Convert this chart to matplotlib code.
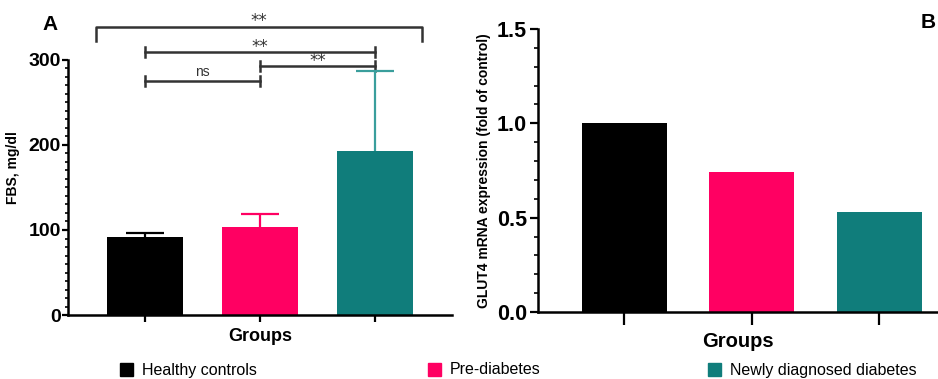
import matplotlib
matplotlib.use("Agg")
import matplotlib.pyplot as plt
from matplotlib.ticker import MultipleLocator, FormatStrFormatter

plt.rcParams['font.family'] = ['Liberation Sans', 'DejaVu Sans']

groups = ["Healthy controls", "Pre-diabetes", "Newly diagnosed diabetes"]
colors = ["#000000", "#FF0062", "#107D7B"]
err_colors = ["#000000", "#FF0062", "#3A9E9C"]

fbs_mean = [92, 104, 193]
fbs_sd = [5, 15, 94]
glut4_fold = [1.0, 0.74, 0.53]

# pairwise comparisons: (group i, group j, label, bar height)
comparisons = [
    (0, 1, "ns", 275),
    (1, 2, "**", 293),
    (0, 2, "**", 309),
]
overall_label = "**"

line_col = "#333333"

fig = plt.figure(figsize=(9.38, 3.79), dpi=100)

# ---------- Panel A: fasting blood sugar ----------
axA = fig.add_axes([68/938, 1-315/379, (452-68)/938, (315-60)/379])
x = list(range(len(groups)))
axA.bar(x, fbs_mean, width=0.66, color=colors, zorder=2)
for xi, m, s, ec in zip(x, fbs_mean, fbs_sd, err_colors):
    # upward-only SD whisker with a single cap
    axA.plot([xi, xi], [m, m + s], color=ec, lw=1.6, zorder=3,
             solid_capstyle="butt")
    axA.plot([xi], [m + s], marker="_", markersize=27, markeredgewidth=1.6,
             color=ec, zorder=3)
axA.set_xlim(-0.67, 2.67)
axA.set_ylim(0, 300)
axA.yaxis.set_major_locator(MultipleLocator(100))
axA.yaxis.set_minor_locator(MultipleLocator(10))
axA.set_xticks(x)
axA.set_xticklabels([])
for sp in ("top", "right"):
    axA.spines[sp].set_visible(False)
for sp in ("left", "bottom"):
    axA.spines[sp].set_linewidth(1.8)
axA.tick_params(axis="y", which="major", length=4, width=1.6, pad=1,
                labelsize=14)
axA.tick_params(axis="y", which="minor", length=2, width=1.2)
axA.tick_params(axis="x", which="major", length=5, width=1.6)
for lab in axA.get_yticklabels():
    lab.set_fontweight("bold")
axA.set_ylabel("FBS, mg/dl", fontsize=10, fontweight="bold")
axA.yaxis.set_label_coords(-0.125, 0.58)
axA.set_xlabel("Groups", fontsize=13, fontweight="bold", labelpad=1)

star_font = dict(fontsize=12, family="DejaVu Sans", color=line_col)

# comparison bars with end ticks
tick_h = 6
for i, j, lab, yl in comparisons:
    axA.plot([i, j], [yl, yl], color=line_col, lw=1.8, clip_on=False)
    for xe in (i, j):
        axA.plot([xe, xe], [yl - tick_h, yl + tick_h], color=line_col,
                 lw=1.8, clip_on=False)
    if lab == "ns":
        axA.text((i + j) / 2, yl + 6.5, lab, ha="center", va="baseline",
                 fontsize=10, color=line_col, clip_on=False)
    else:
        axA.text((i + j) / 2, yl + 0.5, lab, ha="center", va="baseline",
                 clip_on=False, **star_font)

# overall comparison bracket
top_y, leg_y = 339, 322
axA.plot([-0.43, -0.43, 2.41, 2.41], [leg_y, top_y, top_y, leg_y],
         color=line_col, lw=1.8, clip_on=False)
axA.text((-0.43 + 2.41) / 2, top_y + 0.5, overall_label, ha="center",
         va="baseline", clip_on=False, **star_font)

fig.text(50/938, 1-25/379, "A", fontsize=15, fontweight="bold",
         ha="center", va="center")

# ---------- Panel B: GLUT4 expression ----------
axB = fig.add_axes([538/938, 1-312/379, (938-538)/938, (312-29)/379])
axB.bar(x, glut4_fold, width=0.667, color=colors, zorder=2)
axB.set_xlim(-0.675, 2.46)
axB.set_ylim(0, 1.5)
axB.yaxis.set_major_locator(MultipleLocator(0.5))
axB.yaxis.set_minor_locator(MultipleLocator(0.1))
axB.yaxis.set_major_formatter(FormatStrFormatter("%.1f"))
axB.set_xticks(x)
axB.set_xticklabels([])
for sp in ("top", "right"):
    axB.spines[sp].set_visible(False)
for sp in ("left", "bottom"):
    axB.spines[sp].set_linewidth(1.8)
axB.tick_params(axis="y", which="major", length=6, width=1.6, pad=2,
                labelsize=15.5)
axB.tick_params(axis="y", which="minor", length=3, width=1.2)
axB.tick_params(axis="x", which="major", length=9, width=1.6)
for lab in axB.get_yticklabels():
    lab.set_fontweight("bold")
axB.set_ylabel("GLUT4 mRNA expression (fold of control)", fontsize=10,
               fontweight="bold", labelpad=4)
axB.set_xlabel("Groups", fontsize=14.5, fontweight="bold", labelpad=2)

fig.text(928/938, 1-23/379, "B", fontsize=15, fontweight="bold",
         ha="center", va="center")

# ---------- shared legend ----------
leg_x = [120, 428, 708]
for lx, g, c in zip(leg_x, groups, colors):
    fig.patches.append(plt.Rectangle((lx/938, 1-376/379), 13/938, 13/379,
                                     transform=fig.transFigure,
                                     color=c, figure=fig))
    fig.text((lx + 22)/938, 1-370/379, g, fontsize=11.5, ha="left",
             va="center")

fig.savefig("out.png", dpi=100)
